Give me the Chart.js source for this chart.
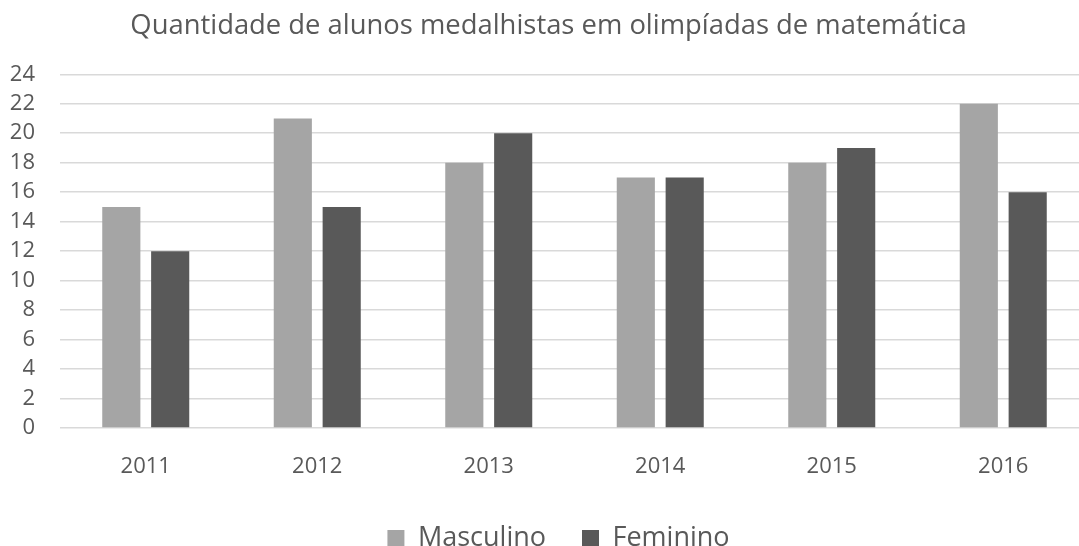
<!DOCTYPE html>
<html>
<head>
<meta charset="utf-8">
<script src="https://cdn.jsdelivr.net/npm/chart.js@4.4.0/dist/chart.umd.min.js"></script>
<style>
    html, body { margin: 0; padding: 0; background: #fff; overflow: hidden; }
    #wrap { width: 1079px; height: 546px; overflow: hidden; }
</style>
</head>
<body>
<div id="wrap"><canvas id="medalChart" width="1089" height="546"></canvas></div>
<script>
// Data
const years = ['2011', '2012', '2013', '2014', '2015', '2016'];
const masculino = [15, 21, 18, 17, 18, 22];
const feminino = [12, 15, 20, 17, 19, 16];
const yTicks = [0, 2, 4, 6, 8, 10, 12, 14, 16, 18, 20, 22, 24];

const textColor = '#595959';
const fontFamily = "'Open Sans', sans-serif";

// legend sits a bit right of centre in the original
const legendShift = {
    id: 'legendShift',
    afterLayout(chart) {
        chart.legend.left += 10;
        chart.legend.right += 10;
    }
};

const ctx = document.getElementById('medalChart').getContext('2d');

new Chart(ctx, {
    type: 'bar',
    data: {
        labels: years,
        datasets: [
            {
                label: 'Masculino',
                data: masculino,
                backgroundColor: '#a5a5a5',
                categoryPercentage: 0.57,
                barPercentage: 0.78
            },
            {
                label: 'Feminino',
                data: feminino,
                backgroundColor: '#595959',
                categoryPercentage: 0.57,
                barPercentage: 0.78
            }
        ]
    },
    options: {
        responsive: false,
        animation: false,
        layout: {
            padding: { left: 8, right: 0, top: 0, bottom: -16 }
        },
        scales: {
            x: {
                grid: { display: false },
                border: { display: false },
                afterFit: (scale) => {
                    scale.height = 61;
                },
                ticks: {
                    color: textColor,
                    padding: 18,
                    font: { family: fontFamily, size: 22 }
                }
            },
            y: {
                min: 0,
                max: yTicks[yTicks.length - 1],
                afterBuildTicks: (scale) => {
                    scale.ticks = yTicks.map(v => ({ value: v }));
                },
                afterFit: (scale) => {
                    scale.width = 52;
                },
                grid: {
                    color: '#d9d9d9',
                    lineWidth: 1.5,
                    drawTicks: false
                },
                border: { display: false },
                ticks: {
                    color: textColor,
                    padding: 25,
                    font: { family: fontFamily, size: 22 }
                }
            }
        },
        plugins: {
            title: {
                display: true,
                text: 'Quantidade de alunos medalhistas em olimpíadas de matemática',
                color: textColor,
                font: { family: fontFamily, size: 27.4, weight: 'normal' },
                padding: { top: 10, bottom: 31.4 }
            },
            legend: {
                position: 'bottom',
                labels: {
                    color: textColor,
                    boxWidth: 17,
                    boxHeight: 17,
                    padding: 36,
                    font: { family: fontFamily, size: 27 }
                }
            },
            tooltip: { enabled: false }
        }
    },
    plugins: [legendShift]
});
</script>
</body>
</html>
